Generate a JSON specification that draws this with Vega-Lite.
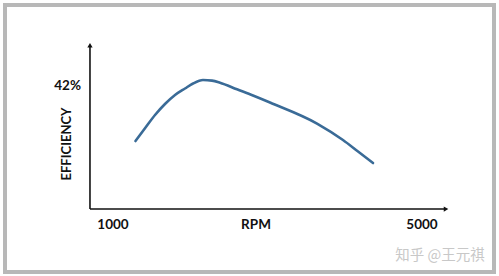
{
  "$schema": "https://vega.github.io/schema/vega-lite/v6.json",
  "autosize": "none",
  "width": 489,
  "height": 267,
  "padding": {"left": 5, "top": 5, "right": 5, "bottom": 4},
  "background": "white",
  "config": {"view": {"stroke": "#b8b8b8", "strokeWidth": 4}},
  "layer": [
    {
      "data": {"values": [
        {"x": 702, "y": 0, "x2": 702, "y2": 56},
        {"x": 702, "y": 0, "x2": 5311, "y2": 0}
      ]},
      "mark": {"type": "rule", "color": "#111111", "strokeWidth": 1.6},
      "encoding": {
        "x": {"field": "x", "type": "quantitative", "scale": {"domain": [-398, 5932], "nice": false, "zero": false}, "axis": null},
        "y": {"field": "y", "type": "quantitative", "scale": {"domain": [-21.5, 69.66], "nice": false, "zero": false}, "axis": null},
        "x2": {"field": "x2"},
        "y2": {"field": "y2"}
      }
    },
    {
      "data": {"values": [
        {"x": 702, "y": 55.9, "shape": "triangle-up"},
        {"x": 5311, "y": 0, "shape": "triangle-right"}
      ]},
      "mark": {"type": "point", "filled": true, "color": "#111111", "size": 28, "opacity": 1},
      "encoding": {
        "x": {"field": "x", "type": "quantitative", "scale": {"domain": [-398, 5932], "nice": false, "zero": false}, "axis": null},
        "y": {"field": "y", "type": "quantitative", "scale": {"domain": [-21.5, 69.66], "nice": false, "zero": false}, "axis": null},
        "shape": {"field": "shape", "type": "nominal", "scale": null, "legend": null}
      }
    },
    {
      "data": {"values": [
        {"rpm": 1291, "eff": 23.22},
        {"rpm": 1414, "eff": 27.56},
        {"rpm": 1544, "eff": 32.1},
        {"rpm": 1673, "eff": 35.85},
        {"rpm": 1803, "eff": 38.93},
        {"rpm": 1932, "eff": 41.15},
        {"rpm": 2036, "eff": 42.85},
        {"rpm": 2165, "eff": 44.05},
        {"rpm": 2282, "eff": 43.84},
        {"rpm": 2385, "eff": 43.13},
        {"rpm": 2605, "eff": 40.87},
        {"rpm": 2812, "eff": 38.76},
        {"rpm": 3032, "eff": 36.37},
        {"rpm": 3641, "eff": 29.19},
        {"rpm": 3977, "eff": 23.56},
        {"rpm": 4172, "eff": 19.63},
        {"rpm": 4366, "eff": 15.71}
      ]},
      "mark": {"type": "line", "color": "#3a6b97", "strokeWidth": 2.6, "interpolate": "monotone", "strokeCap": "round"},
      "encoding": {
        "x": {"field": "rpm", "type": "quantitative", "scale": {"domain": [-398, 5932], "nice": false, "zero": false}, "axis": null},
        "y": {"field": "eff", "type": "quantitative", "scale": {"domain": [-21.5, 69.66], "nice": false, "zero": false}, "axis": null}
      }
    },
    {
      "data": {"values": [
        {"label": "1000", "x": 1000, "y": -5.46},
        {"label": "RPM", "x": 2851, "y": -5.46},
        {"label": "5000", "x": 5000, "y": -5.46}
      ]},
      "mark": {"type": "text", "font": "Lato", "fontWeight": "bold", "fontSize": 13.5, "color": "#111111", "align": "center", "baseline": "middle"},
      "encoding": {
        "x": {"field": "x", "type": "quantitative", "scale": {"domain": [-398, 5932], "nice": false, "zero": false}, "axis": null},
        "y": {"field": "y", "type": "quantitative", "scale": {"domain": [-21.5, 69.66], "nice": false, "zero": false}, "axis": null},
        "text": {"field": "label"}
      }
    },
    {
      "data": {"values": [
        {"label": "42%", "x": 586, "y": 42}
      ]},
      "mark": {"type": "text", "font": "Lato", "fontWeight": "bold", "fontSize": 13.5, "color": "#111111", "align": "right", "baseline": "middle"},
      "encoding": {
        "x": {"field": "x", "type": "quantitative", "scale": {"domain": [-398, 5932], "nice": false, "zero": false}, "axis": null},
        "y": {"field": "y", "type": "quantitative", "scale": {"domain": [-21.5, 69.66], "nice": false, "zero": false}, "axis": null},
        "text": {"field": "label"}
      }
    },
    {
      "data": {"values": [
        {"label": "EFFICIENCY", "x": 405, "y": 22.2}
      ]},
      "mark": {"type": "text", "font": "Lato", "fontWeight": "bold", "fontSize": 13, "color": "#111111", "align": "center", "baseline": "middle", "angle": 270},
      "encoding": {
        "x": {"field": "x", "type": "quantitative", "scale": {"domain": [-398, 5932], "nice": false, "zero": false}, "axis": null},
        "y": {"field": "y", "type": "quantitative", "scale": {"domain": [-21.5, 69.66], "nice": false, "zero": false}, "axis": null},
        "text": {"field": "label"}
      }
    },
    {
      "data": {"values": [
        {"label": "知乎 @王元祺", "x": 5233, "y": -16.05}
      ]},
      "mark": {"type": "text", "font": "Noto Sans CJK SC", "fontSize": 14.5, "color": "#c8c8c8", "align": "center", "baseline": "middle"},
      "encoding": {
        "x": {"field": "x", "type": "quantitative", "scale": {"domain": [-398, 5932], "nice": false, "zero": false}, "axis": null},
        "y": {"field": "y", "type": "quantitative", "scale": {"domain": [-21.5, 69.66], "nice": false, "zero": false}, "axis": null},
        "text": {"field": "label"}
      }
    }
  ]
}
